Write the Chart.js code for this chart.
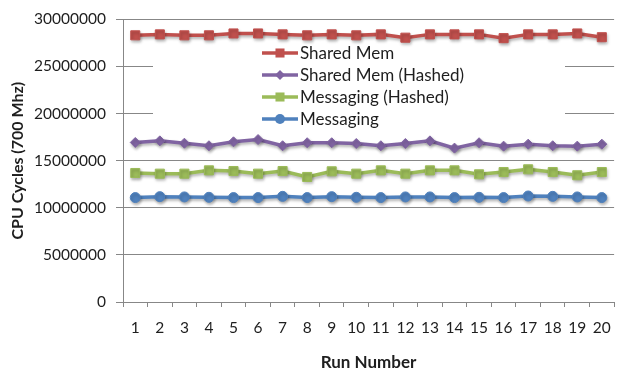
<!DOCTYPE html>
<html>
<head>
<meta charset="utf-8">
<script src="https://cdn.jsdelivr.net/npm/chart.js@4.4.1/dist/chart.umd.min.js"></script>
<style>
  html, body { margin: 0; padding: 0; background: #fff; }
  #wrap { width: 623px; height: 374px; position: relative; }
</style>
</head>
<body>
<div id="wrap"><canvas id="c" width="623" height="374"></canvas></div>
<script>
// Run numbers along the x axis
const runs = ['1','2','3','4','5','6','7','8','9','10','11','12','13','14','15','16','17','18','19','20'];

// CPU cycles per run for each implementation
const sharedMem = [28300000, 28400000, 28300000, 28300000, 28500000, 28500000, 28400000, 28300000, 28400000, 28300000,
                   28400000, 28050000, 28400000, 28400000, 28400000, 28000000, 28400000, 28400000, 28500000, 28100000];
const sharedMemHashed = [16930000, 17100000, 16850000, 16580000, 17000000, 17240000, 16580000, 16900000, 16900000, 16820000,
                         16580000, 16820000, 17100000, 16330000, 16900000, 16540000, 16750000, 16580000, 16540000, 16750000];
const messagingHashed = [13690000, 13620000, 13620000, 13970000, 13900000, 13620000, 13900000, 13270000, 13870000, 13620000,
                         13970000, 13620000, 13970000, 13970000, 13550000, 13790000, 14080000, 13790000, 13450000, 13790000];
const messaging = [11080000, 11180000, 11150000, 11110000, 11080000, 11080000, 11210000, 11080000, 11180000, 11110000,
                   11080000, 11150000, 11150000, 11080000, 11110000, 11080000, 11250000, 11210000, 11150000, 11080000];

// Y axis tick values
const yTicks = [0, 5000000, 10000000, 15000000, 20000000, 25000000, 30000000];

const FONT = 'Lato, "Open Sans", sans-serif';
const GRID = '#878787';
const TEXT = '#1e1e1e';

function series(label, data, color, style, radius) {
  return {
    label, data,
    borderColor: color,
    backgroundColor: color,
    pointBackgroundColor: color,
    pointBorderColor: color,
    pointBorderWidth: 1,
    pointStyle: style,
    pointRadius: radius,
    borderWidth: 3.5,
    tension: 0
  };
}

// Soft drop shadow under each line
const shadowPlugin = {
  id: 'lineShadow',
  beforeDatasetDraw(chart) {
    const ctx = chart.ctx;
    ctx.save();
    ctx.shadowColor = 'rgba(0,0,0,0.30)';
    ctx.shadowBlur = 3;
    ctx.shadowOffsetX = 1;
    ctx.shadowOffsetY = 2;
  },
  afterDatasetDraw(chart) {
    chart.ctx.restore();
  }
};

function drawMarker(ctx, style, x, y, r) {
  ctx.beginPath();
  if (style === 'rect') {
    const s = r * Math.SQRT1_2;
    ctx.rect(x - s, y - s, 2 * s, 2 * s);
  } else if (style === 'rectRot') {
    ctx.moveTo(x, y - r); ctx.lineTo(x + r, y); ctx.lineTo(x, y + r); ctx.lineTo(x - r, y); ctx.closePath();
  } else {
    ctx.arc(x, y, r, 0, Math.PI * 2);
  }
  ctx.fill();
}

// Legend panel sitting inside the plot area
const insideLegend = {
  id: 'insideLegend',
  beforeDatasetsDraw(chart) {
    const ctx = chart.ctx;
    ctx.save();
    ctx.fillStyle = '#ffffff';
    ctx.fillRect(153, 40, 412, 90);
    ctx.restore();
  },
  afterDatasetsDraw(chart) {
    const ctx = chart.ctx;
    const rows = [53, 75, 97, 119];
    ctx.save();
    chart.data.datasets.forEach((ds, i) => {
      const y = rows[i];
      ctx.strokeStyle = ds.borderColor;
      ctx.lineWidth = 3.5;
      ctx.beginPath();
      ctx.moveTo(262, y); ctx.lineTo(298, y);
      ctx.stroke();
      ctx.fillStyle = ds.pointBackgroundColor;
      drawMarker(ctx, ds.pointStyle, 280, y, ds.pointRadius);
      ctx.fillStyle = TEXT;
      ctx.font = '17px ' + FONT;
      ctx.textBaseline = 'middle';
      ctx.textAlign = 'left';
      ctx.fillText(ds.label, 300, y + 1);
    });
    ctx.restore();
  }
};

new Chart(document.getElementById('c'), {
  type: 'line',
  data: {
    labels: runs,
    datasets: [
      series('Shared Mem', sharedMem, '#C0504D', 'rect', 6.4),
      series('Shared Mem (Hashed)', sharedMemHashed, '#8064A2', 'rectRot', 5),
      series('Messaging (Hashed)', messagingHashed, '#9BBB59', 'rect', 6.4),
      series('Messaging', messaging, '#4F81BD', 'circle', 5)
    ]
  },
  options: {
    responsive: false,
    animation: false,
    devicePixelRatio: 1,
    layout: { padding: { left: 4, right: 6, top: 13, bottom: 0 } },
    plugins: {
      legend: { display: false },
      tooltip: { enabled: false }
    },
    scales: {
      x: {
        offset: true,
        grid: { offset: true, drawOnChartArea: false, color: GRID, tickLength: 5 },
        border: { color: GRID, width: 1 },
        ticks: { color: TEXT, font: { family: FONT, size: 15.5 }, padding: 12, maxRotation: 0, autoSkip: false },
        title: { display: true, text: 'Run Number', color: TEXT, font: { family: FONT, size: 17, weight: 'bold' }, padding: { top: 0, bottom: 1 } },
        afterFit(scale) { scale.height = 72; }
      },
      y: {
        min: 0, max: 30000000,
        afterBuildTicks(scale) { scale.ticks = yTicks.map(v => ({ value: v })); },
        grid: { color: GRID, tickLength: 7 },
        border: { color: GRID, width: 1 },
        ticks: { color: TEXT, font: { family: FONT, size: 15.5 }, padding: 10, callback: v => String(v) },
        title: { display: true, text: 'CPU Cycles (700 Mhz)', color: TEXT, font: { family: FONT, size: 16, weight: 'bold' }, padding: { top: 4, bottom: 0 } },
        afterFit(scale) { scale.width = 119; }
      }
    }
  },
  plugins: [shadowPlugin, insideLegend]
});
</script>
</body>
</html>
